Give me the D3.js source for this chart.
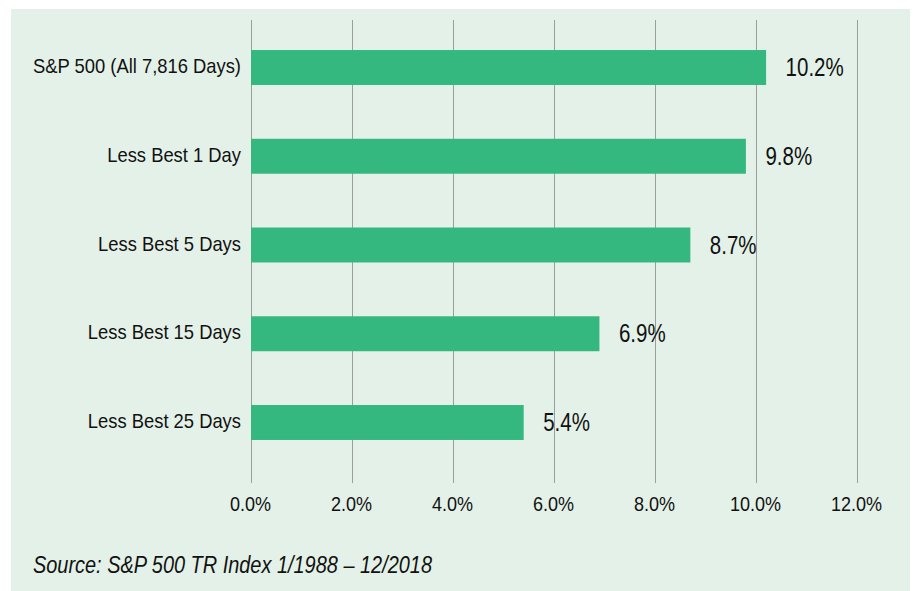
<!DOCTYPE html>
<html>
<head>
<meta charset="utf-8">
<script src="https://cdn.jsdelivr.net/npm/d3@7"></script>
<style>
  body { margin: 0; background: #fff; }
  svg { display: block; }
  text { font-family: "Liberation Sans", Arial, sans-serif; fill: #111; }
</style>
</head>
<body>
<svg id="chart" width="913" height="591"></svg>
<script>
// Chart data
const categories = ['S&P 500 (All 7,816 Days)', 'Less Best 1 Day', 'Less Best 5 Days', 'Less Best 15 Days', 'Less Best 25 Days'];
const returns = [10.2, 9.8, 8.7, 6.9, 5.4];
const tickValues = [0, 2, 4, 6, 8, 10, 12];
const sourceNote = 'Source: S&P 500 TR Index 1/1988 \u2013 12/2018';

const svg = d3.select('#chart');

// squeeze text horizontally to mimic a condensed face
function condense(sel, factor) {
    sel.each(function () {
        const w = this.getComputedTextLength();
        d3.select(this)
            .attr('textLength', w * factor)
            .attr('lengthAdjust', 'spacingAndGlyphs');
    });
}

// Panel background
svg.append('rect')
    .attr('x', 11).attr('y', 9)
    .attr('width', 899).attr('height', 582)
    .attr('fill', '#e4f1e8');

const x = d3.scaleLinear().domain([0, 12]).range([250.5, 856.5]);
const y = d3.scaleBand().domain(categories).range([23, 467])
    .paddingInner(0.606).paddingOuter(0.3045);

// Gridlines
svg.append('g')
    .selectAll('line')
    .data(tickValues)
    .enter()
    .append('line')
    .attr('x1', d => Math.round(x(d)) + 0.5)
    .attr('x2', d => Math.round(x(d)) + 0.5)
    .attr('y1', 20)
    .attr('y2', 483)
    .attr('stroke', '#9a9f9b')
    .attr('stroke-width', 1);

// Bars
svg.append('g')
    .selectAll('rect')
    .data(returns)
    .enter()
    .append('rect')
    .attr('x', x(0) + 0.5)
    .attr('y', (d, i) => y(categories[i]))
    .attr('width', d => x(d) - x(0))
    .attr('height', y.bandwidth())
    .attr('fill', '#35b880');

// Value labels
const valueLabels = svg.append('g')
    .selectAll('text')
    .data(returns)
    .enter()
    .append('text')
    .attr('x', d => x(d) + 20)
    .attr('y', (d, i) => y(categories[i]) + y.bandwidth() / 2 + 8.5)
    .style('font-size', '25px')
    .text(d => d.toFixed(1) + '%');
condense(valueLabels, 0.82);

// Category labels
const catLabels = svg.append('g')
    .selectAll('text')
    .data(categories)
    .enter()
    .append('text')
    .attr('x', 241)
    .attr('y', d => y(d) + y.bandwidth() / 2 + 5.5)
    .attr('text-anchor', 'end')
    .style('font-size', '21px')
    .text(d => d);
const catFactor = 208 / catLabels.node().getComputedTextLength();
condense(catLabels, catFactor);

// X axis tick labels
const tickLabels = svg.append('g')
    .selectAll('text')
    .data(tickValues)
    .enter()
    .append('text')
    .attr('x', d => x(d))
    .attr('y', 511)
    .attr('text-anchor', 'middle')
    .style('font-size', '20px')
    .text(d => d.toFixed(1) + '%');
condense(tickLabels, 0.9);

// Source note
const source = svg.append('text')
    .attr('x', 33)
    .attr('y', 573)
    .style('font-size', '24px')
    .style('font-style', 'italic')
    .text(sourceNote);
condense(source, 399 / source.node().getComputedTextLength());
</script>
</body>
</html>
